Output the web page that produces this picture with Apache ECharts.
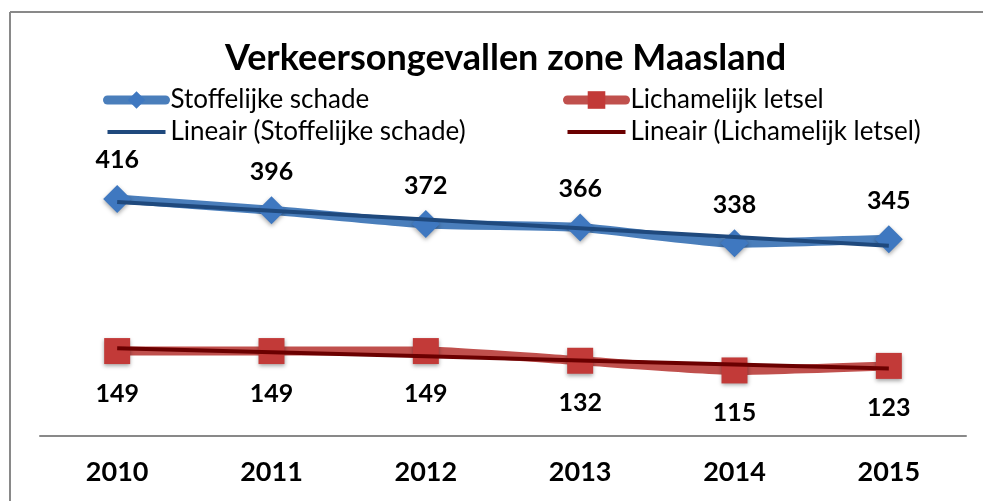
<!DOCTYPE html>
<html>
<head>
<meta charset="utf-8">
<script src="https://cdn.jsdelivr.net/npm/echarts@6/dist/echarts.min.js"></script>
<style>
  html, body { margin: 0; padding: 0; background: #fff; overflow: hidden; }
  #chart { width: 983px; height: 501px; }
</style>
</head>
<body>
<div id="chart"></div>
<script>
// jaren en aantallen
var jaren = ['2010', '2011', '2012', '2013', '2014', '2015'];
var stoffelijk = [416, 396, 372, 366, 338, 345];
var lichamelijk = [149, 149, 149, 132, 115, 123];

// lineaire trendlijn (kleinste kwadraten) uit de data
function lineair(ys) {
  var n = ys.length, sx = 0, sy = 0, sxy = 0, sxx = 0;
  for (var i = 0; i < n; i++) {
    sx += i; sy += ys[i]; sxy += i * ys[i]; sxx += i * i;
  }
  var b = (n * sxy - sx * sy) / (n * sxx - sx * sx);
  var a = (sy - b * sx) / n;
  return ys.map(function (v, i) { return +(a + b * i).toFixed(2); });
}

var font = 'Lato, "Open Sans", sans-serif';
var chart = echarts.init(document.getElementById('chart'));

var legendTekst = { fontSize: 26, color: '#000', fontFamily: font };
var geenSymbool = { color: 'transparent', borderWidth: 0 };
var kader = { stroke: '#898989', lineWidth: 2 };

var option = {
  animation: false,
  textStyle: { fontFamily: font },
  graphic: [
    { type: 'line', shape: { x1: 10, y1: 12, x2: 983, y2: 12 }, style: kader, silent: true },
    { type: 'line', shape: { x1: 10, y1: 12, x2: 10, y2: 501 }, style: kader, silent: true }
  ],
  title: {
    text: 'Verkeersongevallen zone Maasland',
    left: 220,
    top: 35,
    textStyle: { fontSize: 36, fontWeight: 'bold', color: '#000', fontFamily: font }
  },
  legend: [{
    orient: 'vertical',
    left: 98,
    top: 82,
    itemWidth: 58,
    itemHeight: 22,
    itemGap: 6,
    textStyle: legendTekst,
    data: [
      { name: 'Stoffelijke schade', lineStyle: { width: 9, cap: 'round' } },
      { name: 'Lineair (Stoffelijke schade)', lineStyle: { width: 4 }, itemStyle: geenSymbool }
    ]
  }, {
    orient: 'vertical',
    left: 558,
    top: 82,
    itemWidth: 58,
    itemHeight: 22,
    itemGap: 6,
    textStyle: legendTekst,
    data: [
      { name: 'Lichamelijk letsel', lineStyle: { width: 9, cap: 'round' } },
      { name: 'Lineair (Lichamelijk letsel)', lineStyle: { width: 4 }, itemStyle: geenSymbool }
    ]
  }],
  grid: { left: 40, right: 17, top: 151, bottom: 65, containLabel: false },
  xAxis: {
    type: 'category',
    data: jaren,
    axisLine: { lineStyle: { color: '#898989', width: 2 } },
    axisTick: { show: false },
    axisLabel: { fontSize: 27, fontWeight: 'bold', color: '#000', margin: 23, fontFamily: font }
  },
  yAxis: {
    type: 'value',
    min: 0,
    max: 500,
    show: false,
    splitLine: { show: false }
  },
  series: [{
    name: 'Stoffelijke schade',
    type: 'line',
    data: stoffelijk,
    smooth: 0.15,
    symbol: 'diamond',
    symbolSize: 28,
    lineStyle: { color: '#4a7ebb', width: 9 },
    itemStyle: { color: '#3f78c0', shadowBlur: 4, shadowColor: 'rgba(0,0,0,0.35)', shadowOffsetY: 2 },
    label: {
      show: true, position: 'top', distance: 12,
      fontSize: 25, fontWeight: 'bold', color: '#000', fontFamily: font
    },
    z: 2
  }, {
    name: 'Lichamelijk letsel',
    type: 'line',
    data: lichamelijk,
    smooth: 0.15,
    symbol: 'rect',
    symbolSize: 26,
    lineStyle: { color: '#c0504d', width: 9 },
    itemStyle: { color: '#c23a38', shadowBlur: 4, shadowColor: 'rgba(0,0,0,0.35)', shadowOffsetY: 2 },
    label: {
      show: true, position: 'bottom', distance: 17,
      fontSize: 25, fontWeight: 'bold', color: '#000', fontFamily: font
    },
    z: 2
  }, {
    name: 'Lineair (Stoffelijke schade)',
    type: 'line',
    data: lineair(stoffelijk),
    symbol: 'none',
    lineStyle: { color: '#1f497d', width: 4 },
    itemStyle: { color: '#1f497d' },
    z: 3
  }, {
    name: 'Lineair (Lichamelijk letsel)',
    type: 'line',
    data: lineair(lichamelijk),
    symbol: 'none',
    lineStyle: { color: '#6b0000', width: 4 },
    itemStyle: { color: '#6b0000' },
    z: 3
  }]
};

chart.setOption(option);
</script>
</body>
</html>
